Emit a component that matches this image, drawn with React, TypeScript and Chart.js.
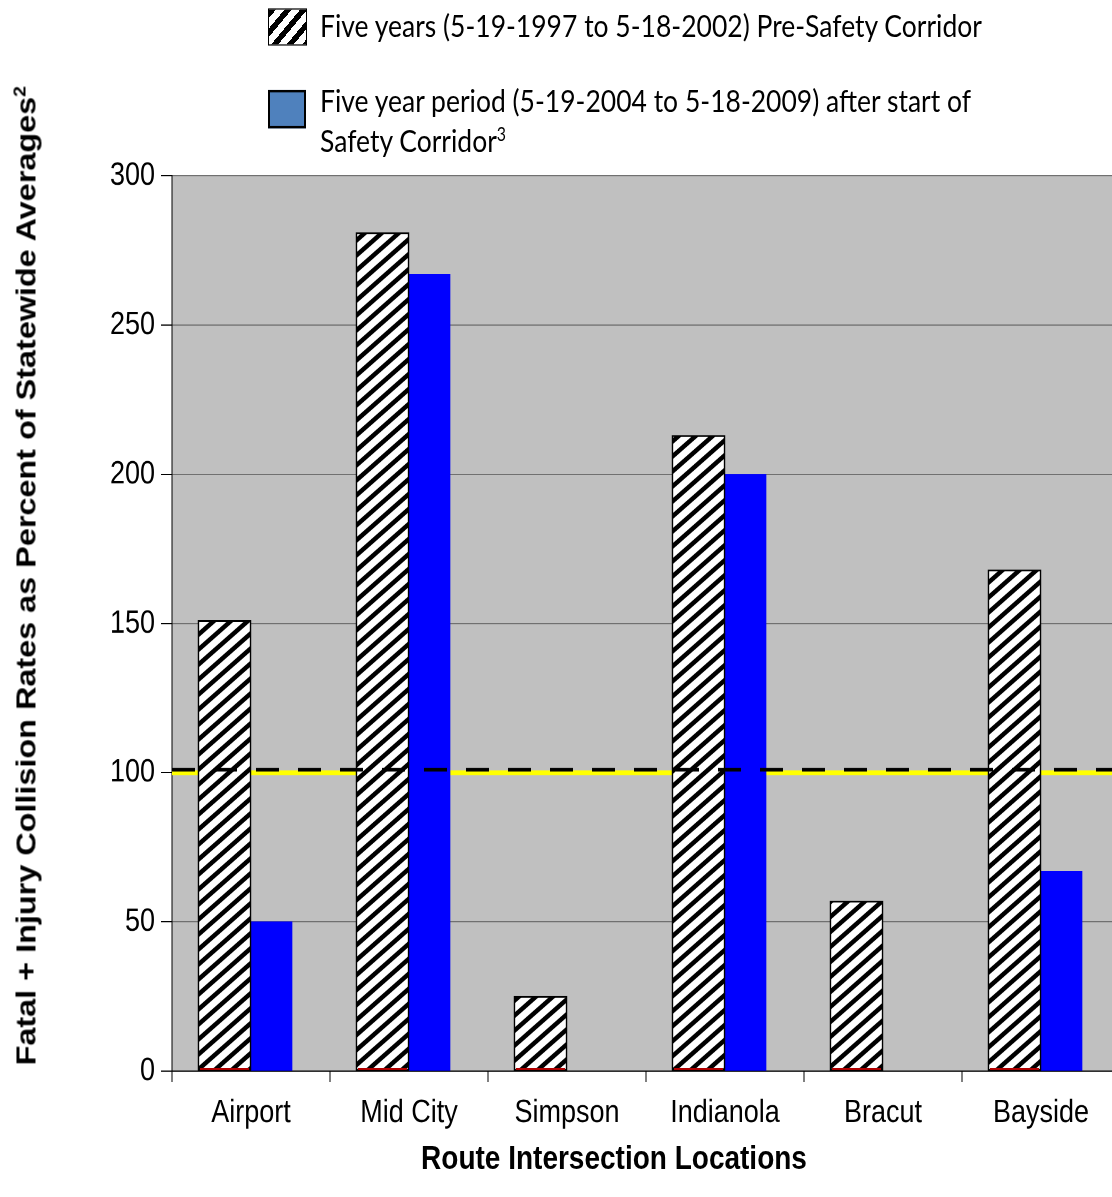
import React, { useEffect, useRef } from "react";
import { Chart, registerables } from "chart.js";

Chart.register(...registerables);

// ---------- data ----------
const categories = ["Airport", "Mid City", "Simpson", "Indianola", "Bracut", "Bayside"];
const preCorridorValues = [151, 281, 25, 213, 57, 168];
const postCorridorValues: (number | null)[] = [50, 267, null, 200, null, 67];
const yTickValues = [0, 50, 100, 150, 200, 250, 300];
const statewideLevel = [100];
const dashedLevel = [101];
const legendPre = "Five years (5-19-1997 to 5-18-2002) Pre-Safety Corridor";
const legendPostLines = ["Five year period (5-19-2004 to 5-18-2009) after start of", "Safety Corridor"];
const legendPostSup = "3";
const yTitle = "Fatal + Injury Collision Rates as Percent of Statewide Averages";
const yTitleSup = "2";
const xTitle = "Route Intersection Locations";

// ---------- layout ----------
const W = 1120;
const H = 998;
const S = 1197 / H; // vertical stretch of the reference
const ly = (y: number) => y / S;
const AXIS_FONT = "'Liberation Sans', Arial, sans-serif";
const LEGEND_FONT = "Lato, 'Open Sans', sans-serif";

function makeHatch(): CanvasPattern | string {
  const k = 2;
  const c = document.createElement("canvas");
  c.width = 17 * k;
  c.height = 25;
  const g = c.getContext("2d");
  if (!g) return "#fff";
  const tw = c.width;
  const th = c.height;
  g.fillStyle = "#ffffff";
  g.fillRect(0, 0, tw, th);
  g.strokeStyle = "#000000";
  g.lineWidth = 4 * k;
  for (let m = -1; m <= 3; m++) {
    g.beginPath();
    g.moveTo((m + 1) * tw, -th);
    g.lineTo((m - 2) * tw, 2 * th);
    g.stroke();
  }
  const p = g.createPattern(c, "repeat");
  if (!p) return "#fff";
  try {
    p.setTransform(new DOMMatrix().scale(1 / k));
  } catch (e) {}
  return p;
}

const decorPlugin = {
  id: "decor",
  beforeDraw(chart: any) {
    const { ctx, chartArea: a } = chart;
    ctx.save();
    ctx.fillStyle = "#C0C0C0";
    ctx.fillRect(a.left, a.top, a.right - a.left, a.bottom - a.top);
    ctx.restore();
  },
  beforeDatasetsDraw(chart: any) {
    const { ctx, chartArea: a, scales } = chart;
    const y = scales.y.getPixelForValue(statewideLevel[0]);
    ctx.save();
    ctx.strokeStyle = "#FFFF00";
    ctx.lineWidth = 4;
    ctx.beginPath();
    ctx.moveTo(a.left, y);
    ctx.lineTo(a.right, y);
    ctx.stroke();
    ctx.restore();
  },
  afterDatasetsDraw(chart: any) {
    const { ctx, chartArea: a, scales } = chart;
    const meta = chart.getDatasetMeta(0);
    ctx.save();
    ctx.strokeStyle = "#B00000";
    ctx.lineWidth = 1.5;
    meta.data.forEach((el: any) => {
      const { x, width, base } = el.getProps(["x", "width", "base"], true);
      ctx.beginPath();
      ctx.moveTo(x - width / 2 + 2, base - 1.2);
      ctx.lineTo(x + width / 2 - 2, base - 1.2);
      ctx.stroke();
    });
    const y = scales.y.getPixelForValue(dashedLevel[0]);
    ctx.strokeStyle = "#000000";
    ctx.lineWidth = 3;
    ctx.setLineDash([23, 19]);
    ctx.beginPath();
    ctx.moveTo(a.left, y);
    ctx.lineTo(a.right, y);
    ctx.stroke();
    ctx.restore();
  },
};

export default function App() {
  const canvasRef = useRef<HTMLCanvasElement>(null);

  useEffect(() => {
    const canvas = canvasRef.current;
    if (!canvas) return;
    const hatch = makeHatch();
    const chart = new Chart(canvas, {
      type: "bar",
      data: {
        labels: categories,
        datasets: [
          {
            label: legendPre,
            data: preCorridorValues,
            backgroundColor: hatch as any,
            borderColor: "#000000",
            borderWidth: 1.5,
            borderSkipped: false,
            barThickness: 53,
          },
          {
            label: legendPostLines.join(" "),
            data: postCorridorValues,
            backgroundColor: "#0000FF",
            borderWidth: 0,
            barThickness: 41,
          },
        ],
      },
      options: {
        responsive: false,
        animation: false,
        devicePixelRatio: 2,
        layout: { padding: { top: ly(176), left: 0, right: 0, bottom: 0 } },
        plugins: {
          legend: { display: false },
          tooltip: { enabled: false },
          title: { display: false },
        },
        scales: {
          x: {
            type: "category",
            grid: {
              display: true,
              drawOnChartArea: false,
              drawTicks: true,
              tickLength: 9,
              tickColor: "#000000",
              offset: true,
            },
            border: { display: true, color: "#000000", width: 1 },
            ticks: {
              color: "#000000",
              font: { family: AXIS_FONT, size: 27 },
              padding: 10,
              maxRotation: 0,
              autoSkip: false,
            },
            afterFit: (s: any) => {
              s.height = H - ly(1071);
            },
          },
          y: {
            min: 0,
            max: 300,
            afterBuildTicks: (s: any) => {
              s.ticks = yTickValues.map((v) => ({ value: v }));
            },
            grid: {
              color: "#707070",
              lineWidth: 1,
              drawTicks: true,
              tickLength: 11,
              tickColor: "#000000",
            },
            border: { display: true, color: "#000000", width: 1 },
            ticks: {
              color: "#000000",
              font: { family: AXIS_FONT, size: 27 },
              padding: 6,
            },
            afterFit: (s: any) => {
              s.width = 172;
            },
          },
        },
      },
      plugins: [decorPlugin],
    });
    return () => chart.destroy();
  }, []);

  const legendText: React.CSSProperties = {
    position: "absolute",
    left: 320,
    fontFamily: LEGEND_FONT,
    fontSize: 26.5,
    color: "#000",
    whiteSpace: "nowrap",
    lineHeight: "34px",
  };

  return (
    <div
      style={{
        position: "absolute",
        left: 0,
        top: 0,
        width: 1112,
        height: 1197,
        overflow: "hidden",
        background: "#ffffff",
      }}
    >
      <div
        style={{
          position: "absolute",
          left: 0,
          top: 0,
          width: W,
          height: H,
          transform: `scaleY(${S})`,
          transformOrigin: "0 0",
        }}
      >
        <canvas
          ref={canvasRef}
          width={W}
          height={H}
          style={{ position: "absolute", left: 0, top: 0, width: `${W}px`, height: `${H}px` }}
        />
        {/* legend */}
        <div
          style={{
            position: "absolute",
            left: 268,
            top: ly(8),
            width: 39,
            height: ly(45) - ly(8),
            boxSizing: "border-box",
            border: "1.5px solid #000",
            background:
              "repeating-linear-gradient(135deg, #000 0px, #000 5px, #fff 5px, #fff 11px)",
          }}
        />
        <div style={{ ...legendText, top: ly(25) - 17 }}>{legendPre}</div>
        <div
          style={{
            position: "absolute",
            left: 268,
            top: ly(90),
            width: 38,
            height: ly(128) - ly(90),
            boxSizing: "border-box",
            border: "2px solid #000",
            background: "#4F81BD",
          }}
        />
        <div style={{ ...legendText, top: ly(99) - 17 }}>
          {legendPostLines[0]}
          <br />
          {legendPostLines[1]}
          <sup style={{ fontSize: "60%", lineHeight: 0 }}>{legendPostSup}</sup>
        </div>
        {/* x title */}
        <div
          style={{
            position: "absolute",
            left: 614,
            top: ly(1159),
            transform: "translate(-50%, -50%)",
            fontFamily: AXIS_FONT,
            fontWeight: "bold",
            fontSize: 28,
            color: "#000",
            whiteSpace: "nowrap",
          }}
        >
          {xTitle}
        </div>
        {/* y title */}
        <div
          style={{
            position: "absolute",
            left: 27,
            top: ly(576),
            transform: "translate(-50%, -50%) rotate(-90deg)",
            fontFamily: AXIS_FONT,
            fontWeight: "bold",
            fontSize: 27,
            color: "#000",
            whiteSpace: "nowrap",
            lineHeight: 1.15,
          }}
        >
          {yTitle}
          <sup style={{ fontSize: "60%", lineHeight: 0 }}>{yTitleSup}</sup>
        </div>
      </div>
    </div>
  );
}
